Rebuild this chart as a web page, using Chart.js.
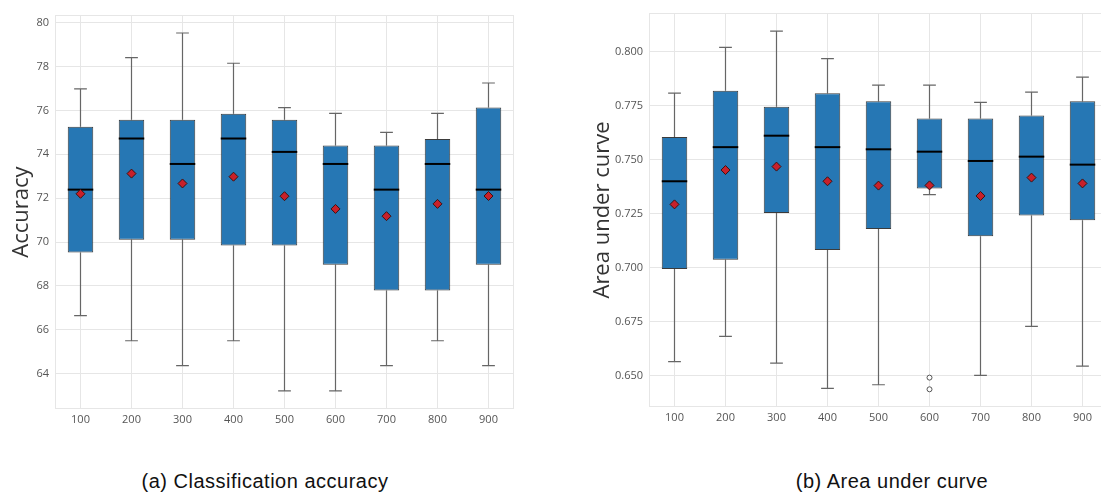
<!DOCTYPE html>
<html lang="en">
<head>
    <meta charset="UTF-8">
    <title>Box plots: accuracy and AUC</title>
    <style>
        html, body {
            margin: 0;
            padding: 0;
            background: #ffffff;
            width: 1101px;
            height: 494px;
            overflow: hidden;
            position: relative;
        }
        canvas {
            position: absolute;
            top: 0;
        }
        #accChart { left: 0; }
        #aucChart { left: 560px; }
        .caption {
            position: absolute;
            top: 471px;
            font-family: "Liberation Sans", Arial, sans-serif;
            font-size: 20px;
            line-height: 20px;
            letter-spacing: 0.5px;
            color: #111;
            white-space: nowrap;
            transform: translateX(-50%);
        }
    </style>
</head>
<body>
    <canvas id="accChart" width="540" height="440"></canvas>
    <canvas id="aucChart" width="560" height="440"></canvas>
    <div class="caption" style="left: 265px;">(a) Classification accuracy</div>
    <div class="caption" style="left: 892px;">(b) Area under curve</div>

    <script src="https://cdn.jsdelivr.net/npm/chart.js"></script>
    <script>
        // Categories (x axis)
        const sizes = ['100', '200', '300', '400', '500', '600', '700', '800', '900'];

        // (a) Classification accuracy
        const accLo   = [66.65, 65.50, 64.37, 65.50, 63.22, 63.22, 64.37, 65.50, 64.37];
        const accQ1   = [69.52, 70.11, 70.11, 69.84, 69.84, 68.97, 67.79, 67.79, 68.97];
        const accMed  = [72.39, 74.72, 73.56, 74.72, 74.11, 73.56, 72.39, 73.56, 72.39];
        const accQ3   = [75.26, 75.57, 75.57, 75.85, 75.57, 74.40, 74.40, 74.70, 76.13];
        const accHi   = [76.98, 78.41, 79.53, 78.15, 76.13, 75.87, 75.00, 75.87, 77.25];
        const accMean = [72.20, 73.12, 72.67, 72.98, 72.09, 71.51, 71.18, 71.74, 72.10];
        const accTicks = [64, 66, 68, 70, 72, 74, 76, 78, 80];

        // (b) Area under curve
        const aucLo   = [0.6565, 0.6682, 0.6558, 0.6441, 0.6458, 0.7338, 0.6501, 0.6728, 0.6544];
        const aucQ1   = [0.6994, 0.7037, 0.7253, 0.7082, 0.7179, 0.7366, 0.7146, 0.7242, 0.7219];
        const aucMed  = [0.7400, 0.7558, 0.7611, 0.7558, 0.7548, 0.7537, 0.7494, 0.7514, 0.7477];
        const aucQ3   = [0.7605, 0.7819, 0.7745, 0.7807, 0.7770, 0.7691, 0.7691, 0.7705, 0.7770];
        const aucHi   = [0.7808, 0.8020, 0.8095, 0.7968, 0.7845, 0.7845, 0.7765, 0.7813, 0.7882];
        const aucMean = [0.7293, 0.7452, 0.7468, 0.7400, 0.7380, 0.7381, 0.7332, 0.7417, 0.7390];
        const aucOutX = ['600', '600'];
        const aucOutY = [0.6491, 0.6437];
        const aucTicks = [0.650, 0.675, 0.700, 0.725, 0.750, 0.775, 0.800];

        const gridColor = '#e6e6e6';
        const boxFill = '#2677b4';
        const tickFont = { family: '"Open Sans", sans-serif', size: 11 };
        const titleFont = { family: '"Open Sans", sans-serif', size: 22 };

        // whiskers, caps, medians and the plot frame
        function boxPlugin(stats) {
            return {
                id: 'boxExtras',
                beforeDatasetsDraw(chart) {
                    const { ctx, chartArea: a } = chart;
                    ctx.save();
                    ctx.strokeStyle = gridColor;
                    ctx.lineWidth = 1;
                    ctx.strokeRect(a.left + 0.5, a.top + 0.5, a.right - a.left - 1, a.bottom - a.top - 1);
                    ctx.restore();
                },
                beforeDatasetDraw(chart, args) {
                    if (args.index !== 0) return;
                    const { ctx } = chart;
                    const y = chart.scales.y;
                    const meta = chart.getDatasetMeta(0);
                    ctx.save();
                    ctx.strokeStyle = '#666';
                    ctx.lineWidth = 1.2;
                    meta.data.forEach((bar, i) => {
                        const cx = bar.x, half = bar.width / 4;
                        const yLo = y.getPixelForValue(stats.lo[i]);
                        const yHi = y.getPixelForValue(stats.hi[i]);
                        ctx.beginPath();
                        ctx.moveTo(cx, y.getPixelForValue(stats.q1[i]));
                        ctx.lineTo(cx, yLo);
                        ctx.moveTo(cx - half, yLo);
                        ctx.lineTo(cx + half, yLo);
                        ctx.moveTo(cx, y.getPixelForValue(stats.q3[i]));
                        ctx.lineTo(cx, yHi);
                        ctx.moveTo(cx - half, yHi);
                        ctx.lineTo(cx + half, yHi);
                        ctx.stroke();
                    });
                    ctx.restore();
                },
                afterDatasetDraw(chart, args) {
                    if (args.index !== 0) return;
                    const { ctx } = chart;
                    const y = chart.scales.y;
                    const meta = chart.getDatasetMeta(0);
                    ctx.save();
                    ctx.strokeStyle = '#000';
                    ctx.lineWidth = 2;
                    meta.data.forEach((bar, i) => {
                        const ym = y.getPixelForValue(stats.med[i]);
                        ctx.beginPath();
                        ctx.moveTo(bar.x - bar.width / 2, ym);
                        ctx.lineTo(bar.x + bar.width / 2, ym);
                        ctx.stroke();
                    });
                    ctx.restore();
                }
            };
        }

        function makeChart(id, stats, o) {
            const datasets = [
                {
                    type: 'bar',
                    data: stats.q1.map((v, i) => [v, stats.q3[i]]),
                    backgroundColor: boxFill,
                    borderColor: 'rgba(25,25,25,0.85)',
                    borderWidth: 1,
                    borderSkipped: false,
                    barPercentage: 0.5,
                    categoryPercentage: 1.0,
                    order: 2
                },
                {
                    type: 'line',
                    data: stats.mean,
                    showLine: false,
                    pointStyle: 'rectRot',
                    pointRadius: 4.5,
                    backgroundColor: '#c8202a',
                    borderColor: '#3b1212',
                    borderWidth: 1,
                    order: 1
                }
            ];
            if (stats.outX) {
                datasets.push({
                    type: 'line',
                    data: stats.outX.map((x, i) => ({ x: x, y: stats.outY[i] })),
                    showLine: false,
                    pointStyle: 'circle',
                    pointRadius: 2.5,
                    backgroundColor: '#ffffff',
                    borderColor: '#555',
                    borderWidth: 1,
                    order: 0
                });
            }

            return new Chart(document.getElementById(id), {
                type: 'bar',
                data: { labels: sizes, datasets: datasets },
                options: {
                    responsive: false,
                    animation: false,
                    layout: { padding: o.padding },
                    plugins: {
                        legend: { display: false },
                        tooltip: { enabled: false }
                    },
                    scales: {
                        x: {
                            offset: true,
                            grid: { color: gridColor, offset: false, drawTicks: false },
                            border: { display: false },
                            ticks: { font: tickFont, color: '#555', padding: 4 },
                            afterFit: s => { s.height = o.xHeight; }
                        },
                        y: {
                            min: o.min,
                            max: o.max,
                            grid: { color: gridColor, drawTicks: false },
                            border: { display: false },
                            ticks: {
                                font: tickFont,
                                color: '#555',
                                padding: 6,
                                callback: o.fmt
                            },
                            afterBuildTicks: s => { s.ticks = o.ticks.map(v => ({ value: v })); },
                            afterFit: s => { s.width = o.yWidth; },
                            title: {
                                display: true,
                                text: o.title,
                                font: titleFont,
                                color: '#333',
                                padding: { top: o.titlePad, bottom: 0 }
                            }
                        }
                    }
                },
                plugins: [boxPlugin(stats)]
            });
        }

        makeChart('accChart',
            { lo: accLo, q1: accQ1, med: accMed, q3: accQ3, hi: accHi, mean: accMean },
            {
                min: 62.39, max: 80.35, ticks: accTicks, fmt: v => String(v),
                title: 'Accuracy', titlePad: 9,
                padding: { top: 15, right: 26, bottom: 0, left: 0 },
                yWidth: 55, xHeight: 31
            });

        makeChart('aucChart',
            { lo: aucLo, q1: aucQ1, med: aucMed, q3: aucQ3, hi: aucHi, mean: aucMean, outX: aucOutX, outY: aucOutY },
            {
                min: 0.6355, max: 0.8179, ticks: aucTicks, fmt: v => Number(v).toFixed(3),
                title: 'Area under curve', titlePad: 30,
                padding: { top: 13, right: 12, bottom: 0, left: 0 },
                yWidth: 89, xHeight: 33
            });
    </script>
</body>
</html>
